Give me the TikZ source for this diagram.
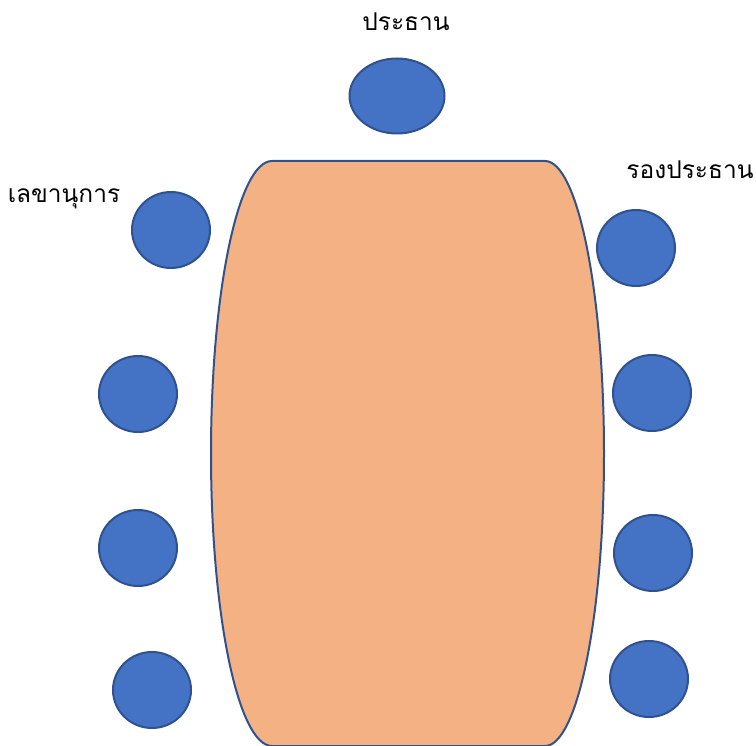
\documentclass[tikz,border=0pt]{standalone}
\usepackage{fontspec}
\newfontfamily\thaifont[Script=Thai]{Loma}
\usetikzlibrary{positioning,shapes.geometric}

\definecolor{seatblue}{HTML}{4472C4}
\definecolor{edgeblue}{HTML}{2F528F}
\definecolor{tablepeach}{HTML}{F4B183}

\begin{document}
\begin{tikzpicture}[x=1pt,y=-1pt,
  seat/.style={ellipse, draw=edgeblue, fill=seatblue, line width=2pt,
               inner sep=0pt, minimum width=78pt, minimum height=76pt},
  lb/.style={font=\thaifont\fontsize{24.5}{28}\selectfont, text=black, inner sep=0pt},
]
\useasboundingbox (0,0) rectangle (756,746);

% table
\draw[draw=edgeblue, fill=tablepeach, line width=2pt]
  (272,161) -- (545,161)
  arc[start angle=-90, end angle=90, x radius=59, y radius=292.5]
  -- (272,746)
  arc[start angle=90, end angle=270, x radius=61, y radius=292.5]
  -- cycle;

% seats
\node[seat, minimum width=95pt, minimum height=75pt] (chair) at (397,96) {};
\node[seat] (l1) at (171,230) {};
\node[seat] (l2) at (138,394) {};
\node[seat] (l3) at (138,548) {};
\node[seat] (l4) at (152,690) {};
\node[seat] (r1) at (636,248) {};
\node[seat] (r2) at (652,393) {};
\node[seat] (r3) at (653,553) {};
\node[seat] (r4) at (649,679) {};

% labels
\node[lb] (chairlb) at (406,22) {ประธาน};
\node[lb] (vicelb) at (690,170) {รองประธาน};
\node[lb] (seclb) at (64,199) {เลขานุการ};
\end{tikzpicture}
\end{document}
